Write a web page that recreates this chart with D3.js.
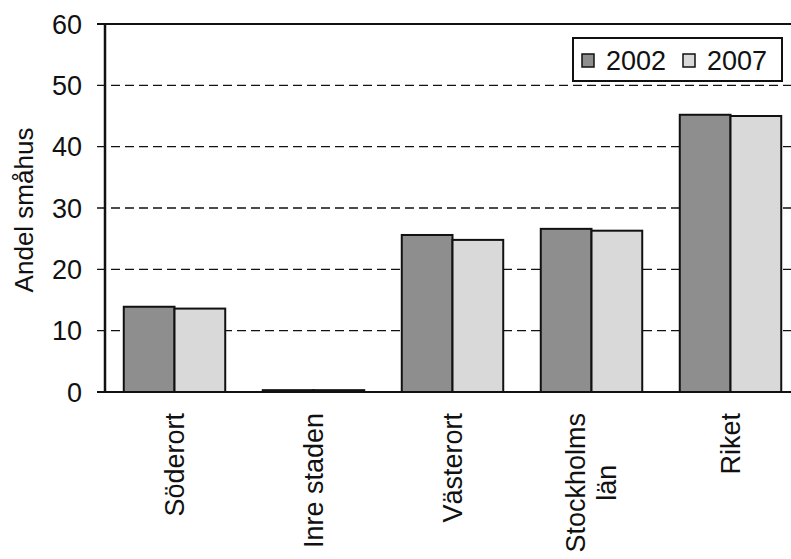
<!DOCTYPE html>
<html>
<head>
<meta charset="utf-8">
<script src="https://cdn.jsdelivr.net/npm/d3@7"></script>
<style>
    body { margin: 0; background: #fff; }
    text { font-family: "Liberation Sans", Arial, sans-serif; fill: #111; }
</style>
</head>
<body>
<div id="chart"></div>
<script>

const categories = [["Söderort"], ["Inre staden"], ["Västerort"], ["Stockholms", "län"], ["Riket"]];
const years = ["2002", "2007"];
const values2002 = [13.9, 0.3, 25.6, 26.6, 45.2];
const values2007 = [13.6, 0.3, 24.8, 26.3, 45.0];
const yTicks = [0, 10, 20, 30, 40, 50, 60];

const width = 791;
const height = 559;
const plotLeft = 105, plotRight = 800, plotTop = 24, plotBottom = 392;

const fills = { "2002": "#8e8e8e", "2007": "#d9d9d9" };

const svg = d3.select("#chart")
    .append("svg")
    .attr("width", width)
    .attr("height", height);

const x0 = d3.scaleBand()
    .domain(d3.range(categories.length))
    .range([plotLeft, plotRight])
    .paddingInner(0.27)
    .paddingOuter(0.135);

const x1 = d3.scaleBand()
    .domain(years)
    .range([0, x0.bandwidth()]);

const y = d3.scaleLinear()
    .domain([0, 60])
    .range([plotBottom, plotTop]);

// gridlines
svg.append("g")
    .selectAll("line")
    .data(yTicks.filter(function(d) { return d > 0; }))
    .enter()
    .append("line")
    .attr("x1", plotLeft - 8)
    .attr("x2", width)
    .attr("y1", function(d) { return y(d); })
    .attr("y2", function(d) { return y(d); })
    .attr("stroke", "#111")
    .attr("stroke-width", function(d) { return d === 60 ? 2 : 1.3; })
    .attr("stroke-dasharray", function(d) { return d === 60 ? null : "9,5"; });

// y tick labels
svg.append("g")
    .selectAll("text")
    .data(yTicks)
    .enter()
    .append("text")
    .attr("x", 82)
    .attr("y", function(d) { return y(d); })
    .attr("dy", "0.36em")
    .attr("text-anchor", "end")
    .style("font-size", "27px")
    .text(function(d) { return d; });

// bars
const rows = categories.map(function(c, i) {
    return { i: i, vals: [values2002[i], values2007[i]] };
});

const groups = svg.append("g")
    .selectAll("g")
    .data(rows)
    .enter()
    .append("g")
    .attr("transform", function(d) { return "translate(" + x0(d.i) + ",0)"; });

groups.selectAll("rect")
    .data(function(d) {
        return years.map(function(yr, k) { return { year: yr, value: d.vals[k] }; });
    })
    .enter()
    .append("rect")
    .attr("x", function(d) { return x1(d.year); })
    .attr("width", x1.bandwidth())
    .attr("y", function(d) { return y(d.value); })
    .attr("height", function(d) { return y(0) - y(d.value); })
    .attr("fill", function(d) { return fills[d.year]; })
    .attr("stroke", "#111")
    .attr("stroke-width", 2);

// axes lines
svg.append("line")
    .attr("x1", plotLeft).attr("x2", plotLeft)
    .attr("y1", plotTop).attr("y2", plotBottom)
    .attr("stroke", "#111").attr("stroke-width", 2.5);

svg.append("line")
    .attr("x1", plotLeft - 8).attr("x2", width)
    .attr("y1", plotBottom).attr("y2", plotBottom)
    .attr("stroke", "#111").attr("stroke-width", 2);

// x labels, rotated
const lineGap = 31;
categories.forEach(function(lines, i) {
    const cx = x0(i) + x0.bandwidth() / 2;
    const offset = (lines.length - 1) * lineGap / 2;
    const t = svg.append("text")
        .attr("transform", "translate(" + (cx + 9 - offset) + ",413) rotate(-90)")
        .style("font-size", "27px");
    const first = t.append("tspan")
        .attr("x", 0)
        .attr("y", 0)
        .attr("text-anchor", "end")
        .text(lines[0]);
    if (lines.length > 1) {
        const w = first.node().getComputedTextLength();
        for (let k = 1; k < lines.length; k++) {
            t.append("tspan")
                .attr("x", -w / 2)
                .attr("y", k * lineGap)
                .attr("text-anchor", "middle")
                .text(lines[k]);
        }
    }
});

// y axis title
svg.append("text")
    .attr("transform", "translate(33," + ((plotTop + plotBottom) / 2 + 2) + ") rotate(-90)")
    .attr("text-anchor", "middle")
    .style("font-size", "26px")
    .text("Andel småhus");

// legend
const legend = svg.append("g");

legend.append("rect")
    .attr("x", 573)
    .attr("y", 38)
    .attr("width", 209)
    .attr("height", 43)
    .attr("fill", "#fff")
    .attr("stroke", "#111")
    .attr("stroke-width", 2);

const legendX = [582, 683];
years.forEach(function(yr, k) {
    legend.append("rect")
        .attr("x", legendX[k])
        .attr("y", 54)
        .attr("width", 12)
        .attr("height", 13)
        .attr("fill", fills[yr])
        .attr("stroke", "#111")
        .attr("stroke-width", 1.5);
    legend.append("text")
        .attr("x", legendX[k] + 24)
        .attr("y", 70)
        .style("font-size", "27px")
        .text(yr);
});

</script>
</body>
</html>
